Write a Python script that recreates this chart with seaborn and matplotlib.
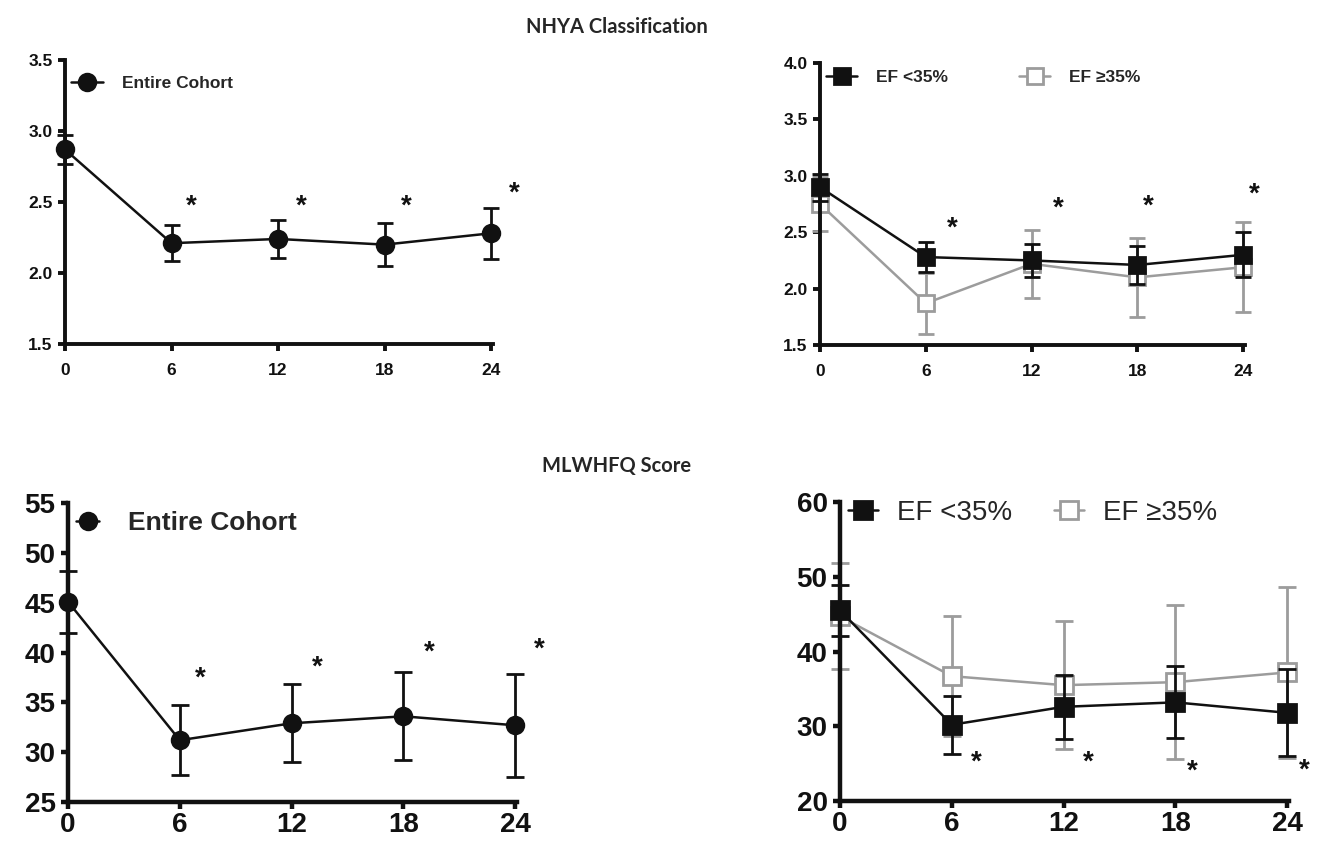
import matplotlib
matplotlib.use('Agg')
import matplotlib.pyplot as plt
import seaborn as sns

# months of follow-up
months = [0, 6, 12, 18, 24]

# NYHA class, mean and error
nyha_all = [2.87, 2.21, 2.24, 2.20, 2.28]
nyha_all_err = [0.105, 0.125, 0.135, 0.15, 0.18]
nyha_low = [2.90, 2.28, 2.25, 2.21, 2.30]
nyha_low_err = [0.12, 0.135, 0.145, 0.165, 0.20]
nyha_high = [2.75, 1.87, 2.22, 2.10, 2.19]
nyha_high_err = [0.24, 0.27, 0.30, 0.35, 0.40]

# MLWHFQ score, mean and error
mlw_all = [45.1, 31.2, 32.9, 33.6, 32.7]
mlw_all_err = [3.1, 3.5, 3.9, 4.4, 5.15]
mlw_low = [45.5, 30.2, 32.6, 33.2, 31.8]
mlw_low_err = [3.45, 3.9, 4.3, 4.8, 5.8]
mlw_high = [44.7, 36.7, 35.5, 35.9, 37.2]
mlw_high_err = [7.1, 8.0, 8.6, 10.3, 11.4]

# significance stars (x, y) per panel
star_x1 = [7.1, 13.3, 19.2, 25.3]
star_y1 = [2.47, 2.47, 2.47, 2.56]
star_x2 = [7.5, 13.5, 18.6, 24.6]
star_y2 = [2.53, 2.71, 2.73, 2.83]
star_x3 = [7.1, 13.4, 19.4, 25.3]
star_y3 = [37.4, 38.5, 40.0, 40.3]
star_x4 = [7.3, 13.3, 18.9, 24.9]
star_y4 = [25.1, 25.2, 23.9, 24.1]

BLACK = '#111111'
GRAY = '#9c9c9c'

sns.set_style("ticks")
plt.rcParams['font.family'] = ['Liberation Sans', 'DejaVu Sans']

fig = plt.figure(figsize=(13.26, 8.43), dpi=100)
ax1 = fig.add_axes([0.0490, 0.5919, 0.3228, 0.3369])
ax2 = fig.add_axes([0.6184, 0.5907, 0.3205, 0.3345])
ax3 = fig.add_axes([0.0513, 0.0486, 0.3386, 0.3547])
ax4 = fig.add_axes([0.6335, 0.0498, 0.3386, 0.3547])


def series(ax, y, err, color, marker, ms, cap, label, filled=True, z=3):
    face = color if filled else 'white'
    ax.errorbar(months, y, yerr=err, fmt='none', ecolor=color, elinewidth=2,
                capsize=cap, capthick=2, zorder=z, clip_on=False)
    sns.lineplot(x=months, y=y, ax=ax, color=color, marker=marker, markersize=ms,
                 markerfacecolor=face, markeredgecolor=color, markeredgewidth=2,
                 linewidth=1.8, label=label, zorder=z + 0.5, clip_on=False)


def style(ax, ylim, yticks, fmt, tsize, lw, tlen, xpad):
    ax.set_xlim(0, 24.1)
    ax.set_ylim(*ylim)
    ax.set_xticks(months)
    ax.set_xticklabels([str(m) for m in months])
    ax.set_yticks(yticks)
    ax.set_yticklabels([fmt.format(v) for v in yticks])
    for side in ['top', 'right']:
        ax.spines[side].set_visible(False)
    for side in ['left', 'bottom']:
        ax.spines[side].set_linewidth(lw)
        ax.spines[side].set_color(BLACK)
    ax.tick_params(width=lw, length=tlen, color=BLACK, labelsize=tsize,
                   labelcolor=BLACK)
    ax.tick_params(axis='x', pad=xpad)
    ax.tick_params(axis='y', pad=4)
    for t in ax.get_xticklabels() + ax.get_yticklabels():
        t.set_fontweight('bold')
    ax.set_xlabel('')
    ax.set_ylabel('')


def stars(ax, xs, ys, size):
    for x, y in zip(xs, ys):
        ax.text(x, y, '*', ha='center', va='center', fontsize=size,
                color=BLACK, fontweight='bold')


# top left
series(ax1, nyha_all, nyha_all_err, BLACK, 'o', 12, 6, 'Entire Cohort')
style(ax1, (1.5, 3.5), [1.5, 2.0, 2.5, 3.0, 3.5], '{:.1f}', 12.5, 2.8, 5, 9)
stars(ax1, star_x1, star_y1, 20)
ax1.legend(loc='center left', bbox_to_anchor=(0.014, 0.919), frameon=False,
           borderpad=0, borderaxespad=0, handlelength=1.86, handletextpad=1.08,
           prop={'size': 12.5, 'weight': 'bold'})

# top right
series(ax2, nyha_high, nyha_high_err, GRAY, 's', 12, 6, 'EF \u226535%', filled=False, z=2)
series(ax2, nyha_low, nyha_low_err, BLACK, 's', 12, 6, 'EF <35%', z=4)
style(ax2, (1.5, 4.0), [1.5, 2.0, 2.5, 3.0, 3.5, 4.0], '{:.1f}', 12.5, 2.8, 5, 9)
stars(ax2, star_x2, star_y2, 20)
h, l = ax2.get_legend_handles_labels()
ax2.legend(h[::-1], l[::-1], loc='center left', bbox_to_anchor=(0.014, 0.950),
           frameon=False, ncol=2, borderpad=0, borderaxespad=0,
           handlelength=1.8, handletextpad=1.08, columnspacing=4.1,
           prop={'size': 12.5, 'weight': 'bold'})

# bottom left
series(ax3, mlw_all, mlw_all_err, BLACK, 'o', 12, 6.5, 'Entire Cohort')
style(ax3, (25, 55), [25, 30, 35, 40, 45, 50, 55], '{:.0f}', 20, 3.2, 5, 2.5)
stars(ax3, star_x3, star_y3, 20)
ax3.legend(loc='center left', bbox_to_anchor=(0.018, 0.933), frameon=False,
           borderpad=0, borderaxespad=0, handlelength=0.87, handletextpad=1.1,
           prop={'size': 19, 'weight': 'bold'})

# bottom right
series(ax4, mlw_high, mlw_high_err, GRAY, 's', 12.5, 6.5, 'EF \u226535%', filled=False, z=2)
series(ax4, mlw_low, mlw_low_err, BLACK, 's', 13, 6.5, 'EF <35%', z=4)
style(ax4, (20, 60), [20, 30, 40, 50, 60], '{:.0f}', 20, 3.2, 5, 2.5)
stars(ax4, star_x4, star_y4, 20)
h, l = ax4.get_legend_handles_labels()
ax4.legend(h[::-1], l[::-1], loc='center left', bbox_to_anchor=(0.018, 0.963),
           frameon=False, ncol=2, borderpad=0, borderaxespad=0,
           handlelength=1.08, handletextpad=0.68, columnspacing=1.5,
           prop={'size': 20})

fig.text(0.465, 0.968, 'NHYA Classification', ha='center', va='center',
         fontsize=14.5, fontweight='bold', family=['Lato', 'DejaVu Sans'])
fig.text(0.465, 0.447, 'MLWHFQ Score', ha='center', va='center',
         fontsize=14.5, fontweight='bold', family=['Lato', 'DejaVu Sans'])

fig.savefig('out.png', dpi=100)
